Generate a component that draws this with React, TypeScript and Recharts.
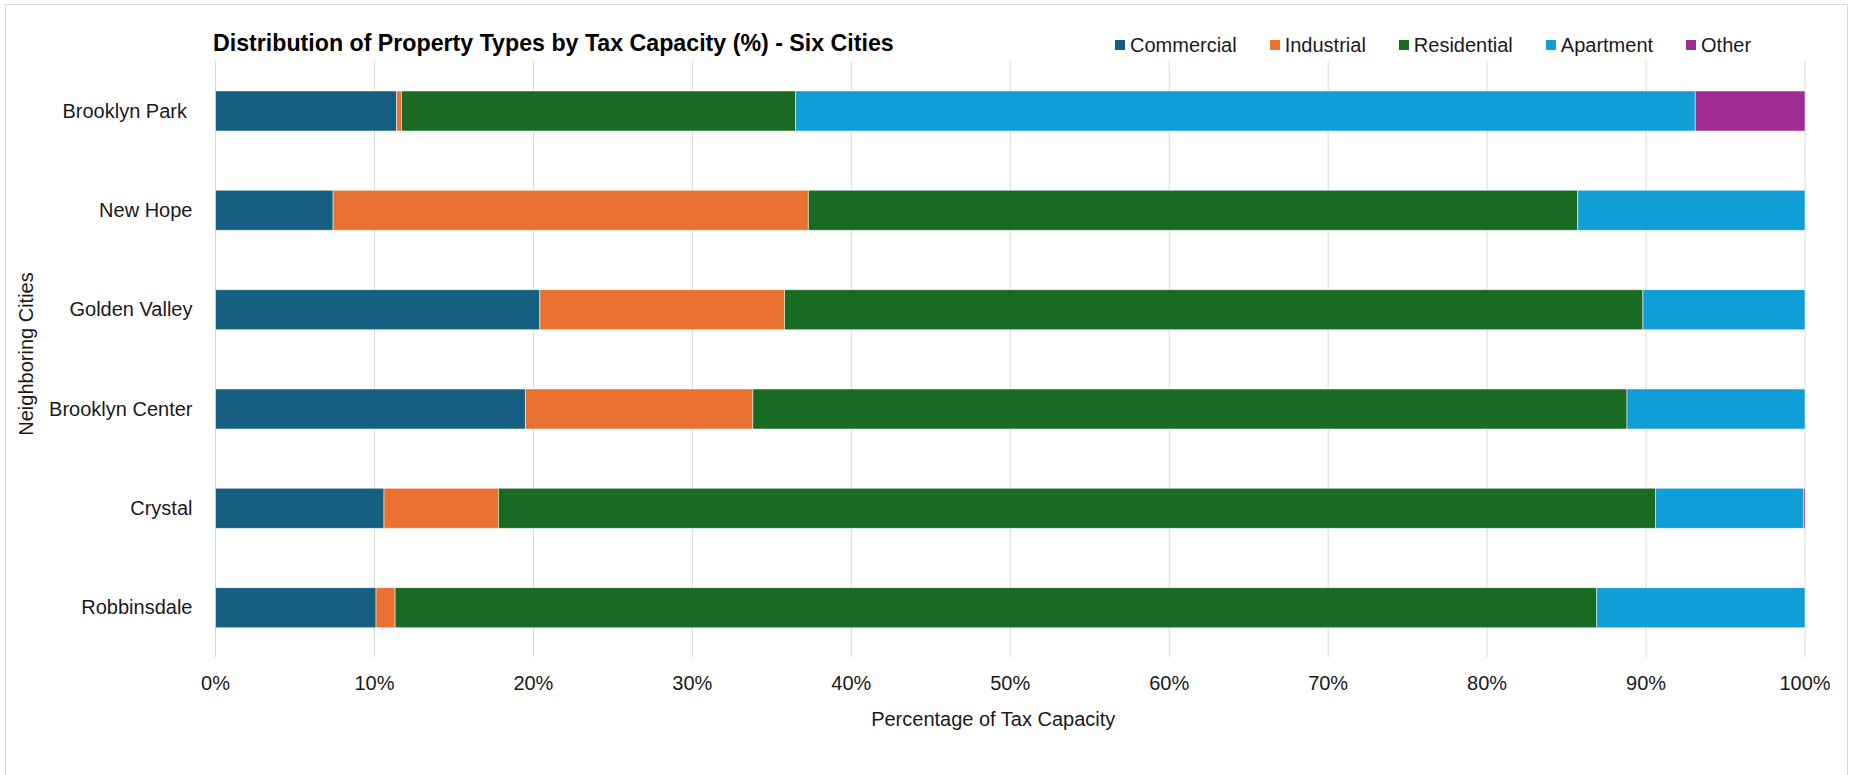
import React from 'react';
import { BarChart, Bar, XAxis, YAxis, CartesianGrid, Legend } from 'recharts';

const cities = ['Brooklyn Park ', 'New Hope', 'Golden Valley', 'Brooklyn Center', 'Crystal', 'Robbinsdale'];
const commercial = [11.4, 7.4, 20.4, 19.5, 10.6, 10.1];
const industrial = [0.3, 29.9, 15.4, 14.3, 7.2, 1.2];
const residential = [24.8, 48.4, 54.0, 55.0, 72.8, 75.6];
const apartment = [56.6, 14.3, 10.2, 11.2, 9.3, 13.1];
const other = [6.9, 0, 0, 0, 0.1, 0];
const xTicks = [0, 10, 20, 30, 40, 50, 60, 70, 80, 90, 100];

const seriesNames = ['Commercial', 'Industrial', 'Residential', 'Apartment', 'Other'];
const seriesColors = ['#156082', '#E97132', '#196B24', '#0F9ED5', '#A02B93'];

const data = cities.map((city, i) => ({
  city,
  Commercial: commercial[i],
  Industrial: industrial[i],
  Residential: residential[i],
  Apartment: apartment[i],
  Other: other[i],
}));

const FONT = '"Liberation Sans", Arial, sans-serif';
const TEXT = '#1a1a1a';

const renderLegend = (props: any) => {
  const payload = [...(props.payload || [])].sort(
    (a: any, b: any) => seriesNames.indexOf(a.value) - seriesNames.indexOf(b.value)
  );
  return (
    <div style={{ display: 'flex', alignItems: 'center', fontFamily: FONT, fontSize: 20, lineHeight: 1, color: TEXT }}>
      {payload.map((p: any, i: number) => (
        <div key={i} style={{ display: 'flex', alignItems: 'center', marginRight: i < payload.length - 1 ? 33 : 0 }}>
          <div style={{ width: 10, height: 10, background: p.color, marginRight: 5 }} />
          <span style={{ whiteSpace: 'nowrap' }}>{p.value}</span>
        </div>
      ))}
    </div>
  );
};

export default function App() {
  return (
    <div style={{ position: 'absolute', left: 0, top: 0, width: 1856, height: 775, overflow: 'hidden', background: '#fff', fontFamily: FONT }}>
      <div style={{ position: 'absolute', left: 5, top: 4, width: 1843, height: 820, border: '1px solid #d9d9d9', boxSizing: 'border-box' }} />
      <div style={{ position: 'absolute', left: 213, top: 31.5, fontSize: 23.2, fontWeight: 'bold', lineHeight: 1, color: '#000', whiteSpace: 'nowrap' }}>
        Distribution of Property Types by Tax Capacity (%) - Six Cities
      </div>
      <div style={{ position: 'absolute', left: 0, top: 0 }}>
        <BarChart
          width={1856}
          height={775}
          data={data}
          layout="vertical"
          margin={{ top: 61, right: 51, left: 0, bottom: 38 }}
          barSize={40}
        >
          <CartesianGrid horizontal={false} vertical={true} stroke="#d9d9d9" strokeWidth={1} />
          <XAxis
            type="number"
            domain={[0, 100]}
            ticks={xTicks}
            tickFormatter={(v: number) => `${v}%`}
            axisLine={false}
            tickLine={false}
            tickSize={0}
            tickMargin={19}
            height={80}
            interval={0}
            tick={{ fontSize: 20, fill: TEXT, fontFamily: FONT }}
            label={{ value: 'Percentage of Tax Capacity', position: 'insideTop', offset: 55, dx: -17, fontSize: 20, fill: TEXT, fontFamily: FONT }}
          />
          <YAxis
            type="category"
            dataKey="city"
            width={215.5}
            axisLine={false}
            tickLine={false}
            tickSize={0}
            tickMargin={23}
            interval={0}
            tick={{ fontSize: 20, fill: TEXT, fontFamily: FONT, style: { whiteSpace: 'pre' } }}
            label={{
              value: 'Neighboring Cities',
              content: (props: any) => {
                const vb = props.viewBox || { x: 0, y: 0, width: 0, height: 0 };
                const cx = vb.x + 25.5;
                const cy = vb.y + vb.height / 2 - 5;
                return (
                  <text
                    x={cx}
                    y={cy}
                    transform={`rotate(-90, ${cx}, ${cy})`}
                    textAnchor="middle"
                    dominantBaseline="central"
                    fontSize={20}
                    fill={TEXT}
                    fontFamily={FONT}
                  >
                    Neighboring Cities
                  </text>
                );
              },
            }}
          />
          <Legend
            layout="horizontal"
            align="center"
            verticalAlign="middle"
            content={renderLegend}
            wrapperStyle={{ position: 'absolute', top: 35, left: 1115, width: 'auto' }}
          />
          {seriesNames.map((name, i) => (
            <Bar
              key={name}
              dataKey={name}
              name={name}
              stackId="a"
              fill={seriesColors[i]}
              stroke="#ffffff"
              strokeOpacity={0.5}
              strokeWidth={1}
              isAnimationActive={false}
            />
          ))}
        </BarChart>
      </div>
    </div>
  );
}
